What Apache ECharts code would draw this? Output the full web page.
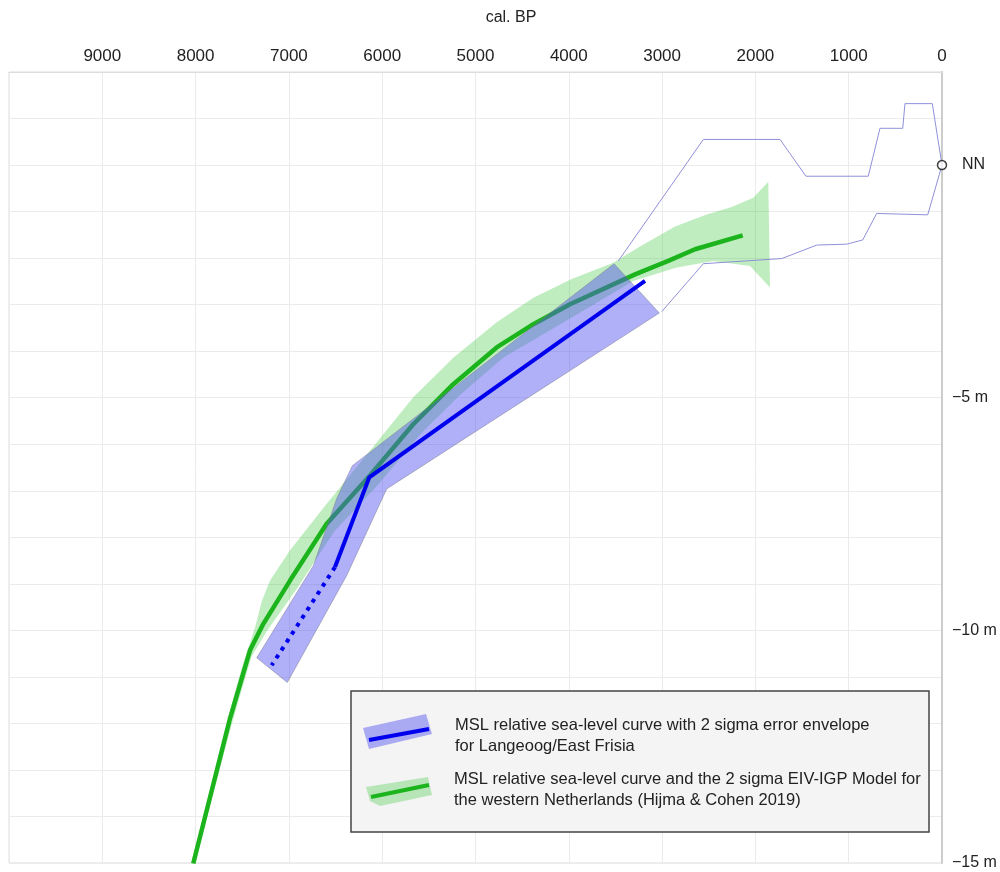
<!DOCTYPE html>
<html>
<head>
<meta charset="utf-8">
<script src="https://cdn.jsdelivr.net/npm/echarts@6/dist/echarts.min.js"></script>
<style>
html,body{margin:0;padding:0;background:#fff;}
#chart{width:1000px;height:872px;}
</style>
</head>
<body>
<div id="chart"></div>
<script>
// ---- Data (age in cal. BP, depth in m relative to NN) ----
var xTicks = [0, 1000, 2000, 3000, 4000, 5000, 6000, 7000, 8000, 9000];
var yLabels = { '0': 'NN', '-5': '\u22125 m', '-10': '\u221210 m', '-15': '\u221215 m' };

// Langeoog / East Frisia curve (solid part and dotted extrapolation)
var blueLine = [[3183, -2.49], [6138, -6.71], [6506, -8.64]];
var blueDotted = [[6506, -8.64], [7184, -10.75]];
// 2 sigma error envelope (polygon)
var blueEnvelope = [
  [3515, -2.12], [3030, -3.18], [5952, -6.96], [6380, -8.82], [7017, -11.12],
  [7345, -10.59], [6738, -8.61], [6488, -7.17], [6320, -6.46], [6131, -6.17]
];
// thin outline of upper / lower limits toward present
var blueOutline = [
  [3469, -2.06], [2558, 0.55], [1736, 0.55], [1458, -0.24], [790, -0.24],
  [665, 0.79], [421, 0.79], [397, 1.32], [104, 1.32], [0, 0],
  [153, -1.07], [700, -1.04], [850, -1.61], [1021, -1.70], [1343, -1.72],
  [1718, -2.01], [2558, -2.12], [3004, -3.15]
];

// Western Netherlands (Hijma & Cohen 2019)
var greenLine = [
  [2136, -1.51], [2647, -1.81], [2934, -2.06], [3290, -2.35], [3987, -2.99],
  [4380, -3.42], [4773, -3.92], [5238, -4.71], [5667, -5.57], [6131, -6.67], [6595, -7.71],
  [6988, -8.93], [7274, -9.86], [7417, -10.43], [7631, -11.89], [8025, -15.01]
];
var greenUpper = [
  [1862, -0.36], [2022, -0.70], [2254, -0.90], [2522, -1.06], [2862, -1.32],
  [3255, -1.77], [3523, -2.10], [3969, -2.45], [4380, -2.85], [4773, -3.38],
  [5238, -4.14], [5667, -4.99], [6131, -6.14], [6595, -7.28], [6988, -8.28],
  [7202, -8.93], [7288, -9.36], [7363, -9.94], [7503, -10.79], [7631, -11.72],
  [7771, -12.94], [8050, -15.0]
];
var greenLower = [
  [1843, -2.63], [2058, -2.17], [2451, -2.06], [2843, -2.20], [3309, -2.49],
  [3923, -3.22], [4705, -4.14], [5166, -4.94], [5595, -5.79], [6045, -6.87],
  [6517, -7.88], [6913, -9.10], [7230, -10.0], [7400, -10.56], [7600, -11.93],
  [8010, -15.0]
];
var nnPoint = [[0, 0]];

var FONT = '"Liberation Sans", Arial, sans-serif';

function polygonSeries(points, fill, stroke, z) {
  return {
    type: 'custom',
    coordinateSystem: 'cartesian2d',
    silent: true,
    z: z,
    data: points,
    renderItem: function (params, api) {
      if (params.dataIndex !== 0) return null;
      var pts = points.map(function (p) { return api.coord(p); });
      return {
        type: 'polygon',
        shape: { points: pts },
        style: { fill: fill, stroke: stroke, lineWidth: stroke ? 0.8 : 0 }
      };
    }
  };
}

var greenPolygon = greenUpper.concat(greenLower.slice().reverse());
var LZ = 2; // legend layer
var LFONT = '16.5px ' + FONT;

var chart = echarts.init(document.getElementById('chart'), null, { renderer: 'canvas' });
chart.setOption({
  animation: false,
  backgroundColor: '#ffffff',
  grid: { left: 9, right: 58, top: 72, bottom: 9, show: true, borderColor: '#dddddd', borderWidth: 1 },
  xAxis: {
    type: 'value', position: 'top', inverse: true, min: 0, max: 10000, interval: 1000,
    axisLine: { show: true, onZero: false, lineStyle: { color: '#dddddd', width: 1 } },
    axisTick: { show: false },
    splitLine: { show: true, lineStyle: { color: '#ebebeb', width: 1 } },
    axisLabel: {
      margin: 7, color: '#222', fontSize: 17, fontFamily: FONT,
      formatter: function (v) { return xTicks.indexOf(v) >= 0 ? String(v) : ''; }
    }
  },
  yAxis: {
    type: 'value', position: 'right', min: -15, max: 2, interval: 1,
    axisLine: { show: true, onZero: false, lineStyle: { color: '#cccccc', width: 2 } },
    axisTick: { show: false },
    splitLine: { show: true, lineStyle: { color: '#ebebeb', width: 1 } },
    axisLabel: {
      margin: 10, color: '#222', fontSize: 16, fontFamily: FONT,
      formatter: function (v) {
        var s = yLabels[String(v)];
        if (!s) return '';
        return v === 0 ? '{nn|' + s + '}' : s;
      },
      rich: { nn: { color: '#222', fontSize: 16, fontFamily: FONT, padding: [0, 0, 0, 10] } }
    }
  },
  series: [
    polygonSeries(greenPolygon, 'rgba(60,200,60,0.33)', null, 1),
    {
      type: 'line', data: greenLine, z: 2, silent: true, symbol: 'none',
      lineStyle: { color: '#1cb41c', width: 4.5 }
    },
    {
      type: 'line', data: blueOutline, z: 3, silent: true, symbol: 'none',
      lineStyle: { color: '#9090da', width: 1 }
    },
    polygonSeries(blueEnvelope, 'rgba(80,80,240,0.45)', 'rgba(120,120,140,0.6)', 4),
    {
      type: 'line', data: blueLine, z: 5, silent: true, symbol: 'none',
      lineStyle: { color: '#0000ee', width: 4, join: 'miter' }
    },
    {
      type: 'line', data: blueDotted, z: 5, silent: true, symbol: 'none',
      lineStyle: { color: '#0000ee', width: 4, type: [4, 5.5], cap: 'butt' }
    },
    {
      type: 'scatter', data: nnPoint, z: 6, silent: true,
      symbol: 'circle', symbolSize: 9,
      itemStyle: { color: '#ffffff', borderColor: '#111', borderWidth: 1.5 }
    }
  ],
  graphic: [
    {
      type: 'text', x: 511, y: 18, zlevel: LZ,
      style: { text: 'cal. BP', fill: '#222', font: '16px ' + FONT, textAlign: 'center', textVerticalAlign: 'middle' }
    },
    { type: 'rect', zlevel: LZ, z: 1, shape: { x: 351, y: 691, width: 578, height: 141 },
      style: { fill: '#f4f4f4', stroke: '#444', lineWidth: 1.5 } },
    { type: 'polygon', zlevel: LZ, z: 2, shape: { points: [[363, 728], [426, 714], [432, 734], [369, 749]] },
      style: { fill: 'rgba(80,80,240,0.45)' } },
    { type: 'line', zlevel: LZ, z: 3, shape: { x1: 369, y1: 740, x2: 429, y2: 729 },
      style: { stroke: '#0000ee', lineWidth: 4 } },
    { type: 'polygon', zlevel: LZ, z: 2, shape: { points: [[366, 787], [428, 777], [432, 795], [380, 806], [370, 801]] },
      style: { fill: 'rgba(60,200,60,0.33)' } },
    { type: 'line', zlevel: LZ, z: 3, shape: { x1: 371, y1: 797, x2: 429, y2: 785 },
      style: { stroke: '#1cb41c', lineWidth: 4 } },
    { type: 'text', zlevel: LZ, z: 3, x: 455, y: 725,
      style: { text: 'MSL relative sea-level curve with 2 sigma error envelope', fill: '#222', font: LFONT, textVerticalAlign: 'middle' } },
    { type: 'text', zlevel: LZ, z: 3, x: 455, y: 746,
      style: { text: 'for Langeoog/East Frisia', fill: '#222', font: LFONT, textVerticalAlign: 'middle' } },
    { type: 'text', zlevel: LZ, z: 3, x: 454, y: 779,
      style: { text: 'MSL relative sea-level curve and the 2 sigma EIV-IGP Model for', fill: '#222', font: LFONT, textVerticalAlign: 'middle' } },
    { type: 'text', zlevel: LZ, z: 3, x: 454, y: 800,
      style: { text: 'the western Netherlands (Hijma & Cohen 2019)', fill: '#222', font: LFONT, textVerticalAlign: 'middle' } }
  ]
});
</script>
</body>
</html>
